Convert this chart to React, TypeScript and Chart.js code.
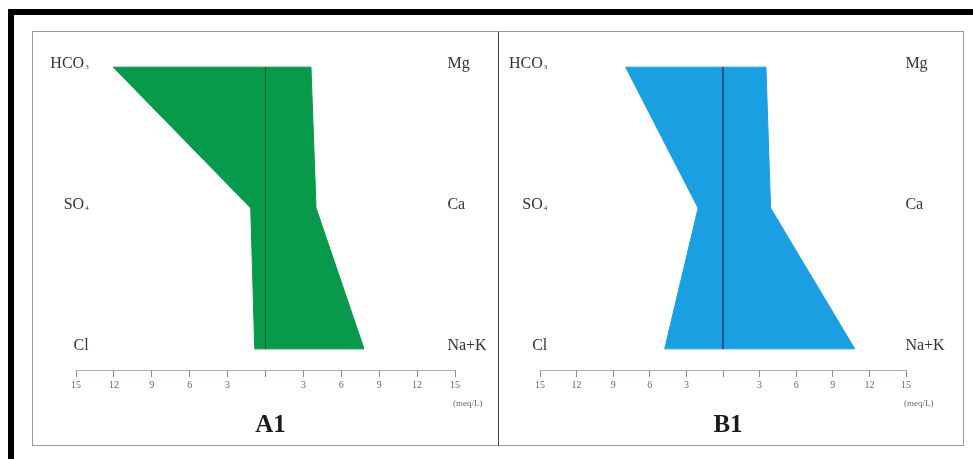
import { useEffect, useRef } from 'react';
import { Chart, registerables } from 'chart.js';

Chart.register(...registerables);

// ---- data ----
const anionNames = ['HCO', 'SO', 'Cl'];
const anionSubs = ['3', '4', ''];
const cationNames = ['Mg', 'Ca', 'Na+K'];
const rowIndex = [0, 1, 2];
const a1Anions = [12.05, 1.17, 0.85]; // HCO3, SO4, Cl (meq/L)
const a1Cations = [3.6, 4.0, 7.8]; // Mg, Ca, Na+K (meq/L)
const b1Anions = [7.98, 2.04, 4.78];
const b1Cations = [3.52, 3.9, 10.8];
const axisMax = 15;
const axisStep = 3;
const unitLabel = '(meq/L)';

type PanelProps = {
  title: string;
  anions: number[];
  cations: number[];
  fillColor: string;
  centerColor: string;
  left: number;
  width: number;
  padLeft: number;
  padRight: number;
  labelLeftAt: number;
  labelRightAt: number;
};

const SERIF = '"Liberation Serif", "Times New Roman", serif';

function StiffPanel(p: PanelProps) {
  const ref = useRef<HTMLCanvasElement | null>(null);
  useEffect(() => {
    if (!ref.current) return;
    const polygon = [
      { x: -p.anions[0], y: rowIndex[0] },
      { x: p.cations[0], y: rowIndex[0] },
      { x: p.cations[1], y: rowIndex[1] },
      { x: p.cations[2], y: rowIndex[2] },
      { x: -p.anions[2], y: rowIndex[2] },
      { x: -p.anions[1], y: rowIndex[1] },
      { x: -p.anions[0], y: rowIndex[0] },
    ];
    const center = [
      { x: 0, y: rowIndex[0] },
      { x: 0, y: rowIndex[2] },
    ];
    const labelPlugin = {
      id: 'stiffLabels',
      afterDraw(chart: any) {
        const { ctx, chartArea, scales } = chart;
        const xs = scales.x;
        const ys = scales.y;
        ctx.save();
        ctx.textBaseline = 'middle';
        ctx.fillStyle = '#333';
        rowIndex.forEach((i) => {
          const py = ys.getPixelForValue(i) - 3;
          const right = xs.getPixelForValue(p.labelLeftAt);
          ctx.font = `16px ${SERIF}`;
          const w = ctx.measureText(anionNames[i]).width;
          ctx.font = `7px ${SERIF}`;
          const sw = anionSubs[i] ? ctx.measureText(anionSubs[i]).width + 1 : 0;
          ctx.textAlign = 'left';
          ctx.font = `16px ${SERIF}`;
          ctx.fillText(anionNames[i], right - sw - w, py);
          if (anionSubs[i]) {
            ctx.font = `7px ${SERIF}`;
            ctx.fillText(anionSubs[i], right - sw + 1, py + 3);
          }
          ctx.font = `16px ${SERIF}`;
          ctx.fillText(cationNames[i], xs.getPixelForValue(p.labelRightAt), py);
        });
        // unit
        ctx.font = `9px ${SERIF}`;
        ctx.fillStyle = '#666';
        ctx.textAlign = 'left';
        ctx.fillText(unitLabel, xs.getPixelForValue(axisMax) - 2, chartArea.bottom + 34);
        // title
        ctx.font = `bold 25px ${SERIF}`;
        ctx.fillStyle = '#1a1a1a';
        ctx.textAlign = 'center';
        ctx.fillText(p.title, xs.getPixelForValue(0) + 5, chartArea.bottom + 56);
        ctx.restore();
      },
    };
    const chart = new Chart(ref.current, {
      type: 'line',
      data: {
        datasets: [
          {
            data: polygon,
            order: 2,
            backgroundColor: p.fillColor,
            borderColor: p.fillColor,
            borderWidth: 1,
            fill: 'shape',
            pointRadius: 0,
            tension: 0,
          },
          {
            data: center,
            order: 1,
            borderColor: p.centerColor,
            borderWidth: 1,
            fill: false,
            pointRadius: 0,
          },
        ],
      },
      options: {
        animation: false,
        responsive: false,
        events: [],
        layout: { padding: { left: p.padLeft, right: p.padRight, top: 7, bottom: 0 } },
        plugins: { legend: { display: false }, tooltip: { enabled: false }, title: { display: false } },
        scales: {
          x: {
            type: 'linear',
            min: -axisMax,
            max: axisMax,
            afterFit: (s: any) => {
              s.height = 74;
            },
            ticks: {
              stepSize: axisStep,
              autoSkip: false,
              maxRotation: 0,
              padding: 2,
              color: '#666',
              font: { family: SERIF, size: 10 },
              callback: (v: any) => (Number(v) === 0 ? '' : String(Math.abs(Number(v)))),
            },
            grid: { drawOnChartArea: false, drawTicks: true, tickLength: 7, color: '#8a8a8a' },
            border: { display: true, color: '#b9a9a9', width: 1 },
          },
          y: {
            type: 'linear',
            display: false,
            reverse: true,
            min: -0.2,
            max: 2.15,
          },
        },
      },
      plugins: [labelPlugin],
    } as any);
    return () => chart.destroy();
  }, []);
  return (
    <canvas
      ref={ref}
      width={p.width}
      height={412}
      style={{ position: 'absolute', left: p.left, top: 32, width: p.width, height: 412 }}
    />
  );
}

export default function App() {
  return (
    <div
      style={{
        position: 'absolute',
        left: 0,
        top: 0,
        width: 973,
        height: 459,
        overflow: 'hidden',
        background: '#fff',
      }}
    >
      <div
        style={{
          position: 'absolute',
          left: 8,
          top: 9,
          width: 1000,
          height: 500,
          borderTop: '6px solid #000',
          borderLeft: '6px solid #000',
        }}
      />
      <div
        style={{
          position: 'absolute',
          left: 32,
          top: 31,
          width: 466,
          height: 413,
          border: '1px solid #9a9a9a',
          borderRight: 'none',
        }}
      />
      <div
        style={{
          position: 'absolute',
          left: 498,
          top: 31,
          width: 464,
          height: 413,
          border: '1px solid #9a9a9a',
          borderLeft: '1px solid #444',
        }}
      />
      <StiffPanel
        title="A1"
        anions={a1Anions}
        cations={a1Cations}
        fillColor="#079a4a"
        centerColor="#1b5a33"
        left={33}
        width={464}
        padLeft={43}
        padRight={42}
        labelLeftAt={-14.0}
        labelRightAt={14.4}
      />
      <StiffPanel
        title="B1"
        anions={b1Anions}
        cations={b1Cations}
        fillColor="#1aa0e2"
        centerColor="#1e4f73"
        left={499}
        width={463}
        padLeft={41}
        padRight={56}
        labelLeftAt={-14.4}
        labelRightAt={14.95}
      />
    </div>
  );
}
